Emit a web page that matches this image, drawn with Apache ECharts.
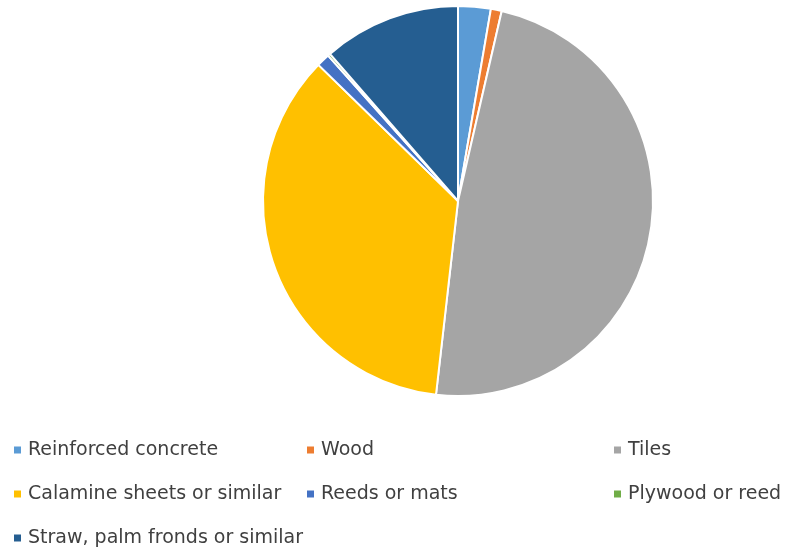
<!DOCTYPE html>
<html><head><meta charset="utf-8">
<script src="https://cdn.jsdelivr.net/npm/echarts@6/dist/echarts.min.js"></script>
<style>html,body{margin:0;padding:0;background:#fff}#c{width:799px;height:554px}</style>
</head><body><div id="c"></div>
<script>
const categories = ["Reinforced concrete","Wood","Tiles","Calamine sheets or similar","Reeds or mats","Plywood or reed","Straw, palm fronds or similar"];
const values = [2.7, 0.9, 48.2, 35.5, 1.1, 0.2, 11.4];
const colors = ["#5B9BD5","#ED7D31","#A5A5A5","#FFC000","#4472C4","#70AD47","#255E91"];
const chart = echarts.init(document.getElementById('c'));
const legendBase = {
  orient: 'vertical', itemWidth: 9, itemHeight: 9, itemGap: 24, icon: 'rect', padding: 0,
  textStyle: {fontFamily: 'DejaVu Sans', fontSize: 19, lineHeight: 20, color: '#404040', padding: [0,0,0,1]}
};
chart.setOption({
  animation: false,
  color: colors,
  legend: [
    Object.assign({}, legendBase, {left: 12, top: 440, data: [categories[0], categories[3], categories[6]]}),
    Object.assign({}, legendBase, {left: 305, top: 440, data: [categories[1], categories[4]]}),
    Object.assign({}, legendBase, {left: 612, top: 440, data: [categories[2], categories[5]]})
  ],
  series: [{
    type: 'pie', center: [458, 201], radius: [0, 195], startAngle: 90, clockwise: true,
    label: {show: false}, labelLine: {show: false},
    itemStyle: {borderColor: '#fff', borderWidth: 2},
    data: categories.map((n, i) => ({name: n, value: values[i]}))
  }]
});
</script></body></html>
